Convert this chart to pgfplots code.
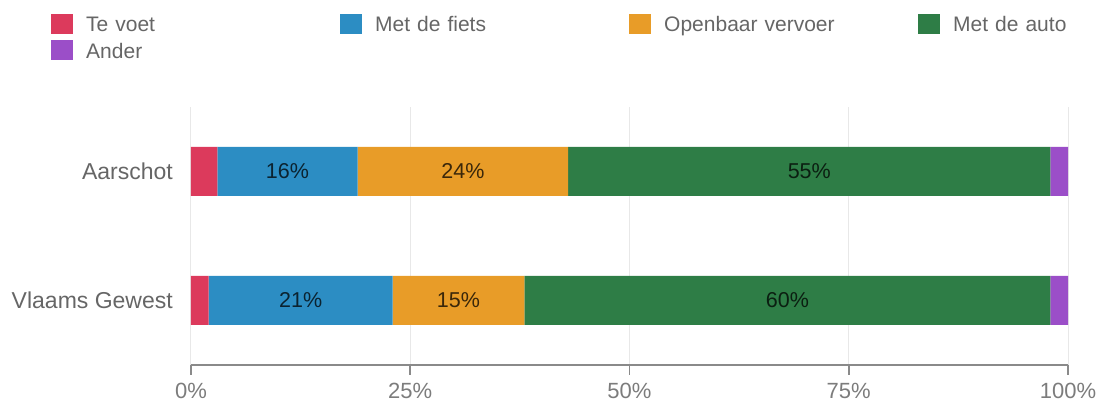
\documentclass[border=0pt]{standalone}
\usepackage{fontspec}
\setmainfont{Liberation Sans}
\usepackage{pgfplots}
\pgfplotsset{compat=1.18}
\definecolor{cvoet}{HTML}{DC3A5C}
\definecolor{cfiets}{HTML}{2C8DC3}
\definecolor{cov}{HTML}{E89C28}
\definecolor{cauto}{HTML}{2E7D46}
\definecolor{cander}{HTML}{9B4EC8}
\definecolor{txt}{HTML}{666666}
\definecolor{axisgray}{HTML}{8A8A8A}
\definecolor{gridgray}{HTML}{E8E8E8}
\begin{document}
\begin{tikzpicture}
\pgfplotsset{
  base/.style={scale only axis, width=877pt, height=258pt,
    xmin=0, xmax=100, ymin=-0.5, ymax=1.5}
}
\begin{axis}[base,
  xbar stacked, bar width=49pt,
  ytick={0,1}, yticklabels={Vlaams Gewest, Aarschot},
  xtick={0,25,50,75,100}, xticklabels={0\%,25\%,50\%,75\%,100\%},
  axis x line*=bottom, axis y line*=left,
  y axis line style={draw=none}, ytick style={draw=none},
  x axis line style={axisgray, line width=1.6pt},
  xtick style={axisgray, line width=1.6pt},
  tick align=outside, major tick length=10pt,
  xmajorgrids, grid style={gridgray, line width=1pt},
  yticklabel style={inner sep=0pt, xshift=-8pt, text=txt, font=\fontsize{23}{27}\selectfont},
  xticklabel style={inner sep=0pt, yshift=-8pt, text=axisgray!90!black, font=\fontsize{22}{26}\selectfont},
  legend columns=4,
  legend style={at={(-0.1596,1.3637)}, anchor=north west, draw=none, fill=none,
    inner sep=0pt, font=\fontsize{21}{25}\selectfont, text=txt,
    nodes={inner sep=0pt, text width=254pt, align=left, text height=18pt, text depth=5pt},
    /tikz/every odd column/.style={column sep=13pt},
    row sep=3.7pt},
  legend image code/.code={\fill[#1] (0pt,-8.8pt) rectangle (22pt,11.2pt);},
]
\addplot[fill=cvoet, draw=none] coordinates {(2,0) (3,1)};
\addplot[fill=cfiets, draw=none] coordinates {(21,0) (16,1)};
\addplot[fill=cov, draw=none] coordinates {(15,0) (24,1)};
\addplot[fill=cauto, draw=none] coordinates {(60,0) (55,1)};
\addplot[fill=cander, draw=none] coordinates {(2,0) (2,1)};
\legend{Te voet, Met de fiets, Openbaar vervoer, Met de auto, Ander}
\end{axis}
\begin{axis}[base, hide axis]
\addplot[only marks, mark=*, mark size=0pt, mark options={draw=none, fill=none},
  nodes near coords, point meta=explicit symbolic,
  every node near coord/.style={anchor=center, inner sep=0pt, text=black, text opacity=0.75, font=\fontsize{21.5}{25}\selectfont}]
  coordinates {(11,1) [16\%] (31,1) [24\%] (70.5,1) [55\%]
               (12.5,0) [21\%] (30.5,0) [15\%] (68,0) [60\%]};
\end{axis}
\pgfresetboundingbox
\path[use as bounding box] ([xshift=-191pt,yshift=-38pt]current axis.south west) rectangle ++(1107pt,403pt);
\end{tikzpicture}
\end{document}
